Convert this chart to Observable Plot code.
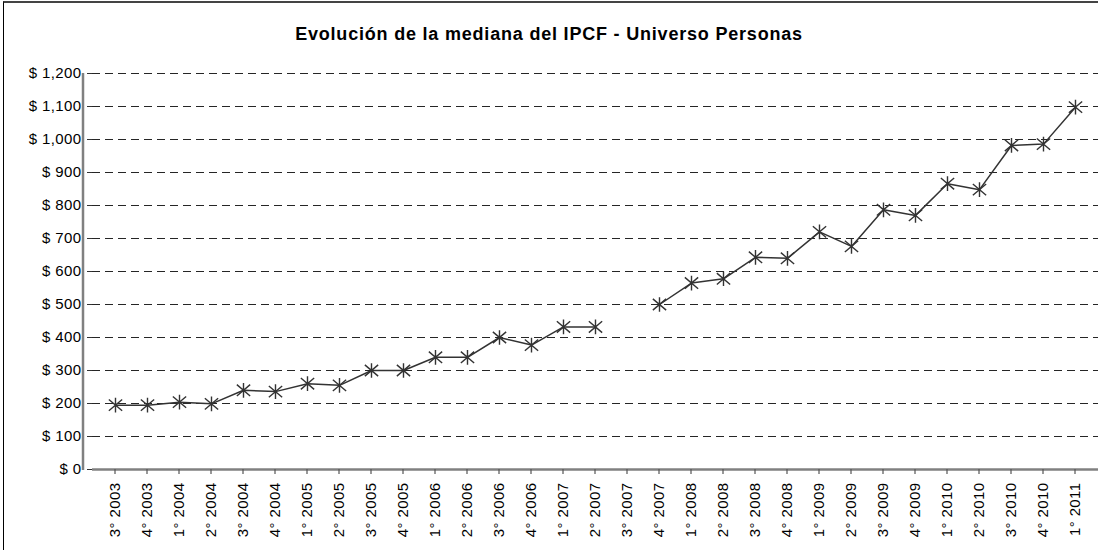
<!DOCTYPE html>
<html>
<head>
<meta charset="utf-8">
<script src="https://cdn.jsdelivr.net/npm/d3@7"></script>
<script src="https://cdn.jsdelivr.net/npm/@observablehq/plot@0.6"></script>
<style>
  html, body { margin: 0; padding: 0; background: #fff; }
  #wrap { position: relative; width: 1098px; height: 550px; overflow: hidden; font-family: "Liberation Sans", Arial, sans-serif; }
  #frame { position: absolute; left: 3px; top: 1px; width: 1200px; height: 600px; border-left: 1px solid #000; border-top: 2px solid #444; }
  #title { position: absolute; left: 0; width: 1098px; top: 24px; text-align: center; font-weight: bold; font-size: 18px; letter-spacing: 0.8px; color: #000; }
  #chart { position: absolute; left: 0; top: 0; }
  #chart svg text { font-size: 15px; letter-spacing: 0.4px; font-family: "Liberation Sans", Arial, sans-serif; }
</style>
</head>
<body>
<div id="wrap">
  <div id="frame"></div>
  <div id="title">Evolución de la mediana del IPCF - Universo Personas</div>
  <div id="chart"></div>
</div>
<script>
const categories = [
  "3° 2003","4° 2003",
  "1° 2004","2° 2004","3° 2004","4° 2004",
  "1° 2005","2° 2005","3° 2005","4° 2005",
  "1° 2006","2° 2006","3° 2006","4° 2006",
  "1° 2007","2° 2007","3° 2007","4° 2007",
  "1° 2008","2° 2008","3° 2008","4° 2008",
  "1° 2009","2° 2009","3° 2009","4° 2009",
  "1° 2010","2° 2010","3° 2010","4° 2010",
  "1° 2011"
];
const medianIPCF = [
  195, 195,
  204, 199, 240, 236,
  260, 255, 300, 300,
  340, 340, 400, 377,
  432, 432, null, 500,
  565, 578, 643, 640,
  720, 676, 787, 770,
  866, 848, 982, 986,
  1098
];
const yTicks = [0,100,200,300,400,500,600,700,800,900,1000,1100,1200];

const data = categories.map((c, i) => ({cat: c, v: medianIPCF[i]}));
const fmt = d => "$ " + d3.format(",")(d);

// Excel-style star marker: an X crossed by a vertical bar
const star = {
  draw(ctx, size) {
    const r = Math.sqrt(size / Math.PI);
    const a = r * 0.95;
    ctx.moveTo(0, -r * 1.05); ctx.lineTo(0, r * 1.05);
    ctx.moveTo(-a, -a * 0.85); ctx.lineTo(a, a * 0.85);
    ctx.moveTo(-a, a * 0.85); ctx.lineTo(a, -a * 0.85);
  }
};

const chart = Plot.plot({
  width: 1098,
  height: 550,
  marginTop: 73,
  marginBottom: 81,
  marginLeft: 92,
  marginRight: 0,
  style: {fontFamily: "'Liberation Sans', Arial, sans-serif", fontSize: "15px", color: "#000", background: "transparent"},
  x: {type: "band", domain: categories, padding: 0, align: 0.5},
  y: {domain: [0, 1200]},
  marks: [
    Plot.ruleY(yTicks.filter(d => d > 0), {stroke: "#000", strokeOpacity: 0.85, strokeWidth: 1.1, strokeDasharray: "8,5"}),
    Plot.axisY(yTicks, {tickFormat: fmt, tickSize: 5, tickPadding: 6, stroke: "#333", strokeWidth: 1, label: null}),
    Plot.axisX({tickRotate: -90, tickSize: 0, tickPadding: 13, label: null}),
    Plot.lineY(data, {x: "cat", y: "v", stroke: "#333", strokeWidth: 1.5}),
    Plot.dot(data.filter(d => d.v != null), {x: "cat", y: "v", symbol: star, r: 7, stroke: "#333", strokeWidth: 1.4}),
    Plot.ruleY([0], {stroke: "#808080", strokeWidth: 2.5})
  ]
});
document.getElementById("chart").appendChild(chart);

// y-axis line and x-axis category boundary ticks, computed from Plot's scales
const svg = d3.select(chart);
const xs = chart.scale("x"), ys = chart.scale("y");
const y0 = ys.apply(0), y1 = ys.apply(1200);
const left = xs.apply(categories[0]) - xs.bandwidth / 2;
svg.append("line").attr("x1", left).attr("x2", left).attr("y1", y1).attr("y2", y0 + 1)
  .attr("stroke", "#808080").attr("stroke-width", 2.5);
categories.forEach((c, i) => {
  const x = xs.apply(c) + xs.bandwidth / 2;
  svg.append("line").attr("x1", x).attr("x2", x).attr("y1", y0).attr("y2", y0 + 5)
    .attr("stroke", "#555").attr("stroke-width", 1.2);
});
</script>
</body>
</html>
